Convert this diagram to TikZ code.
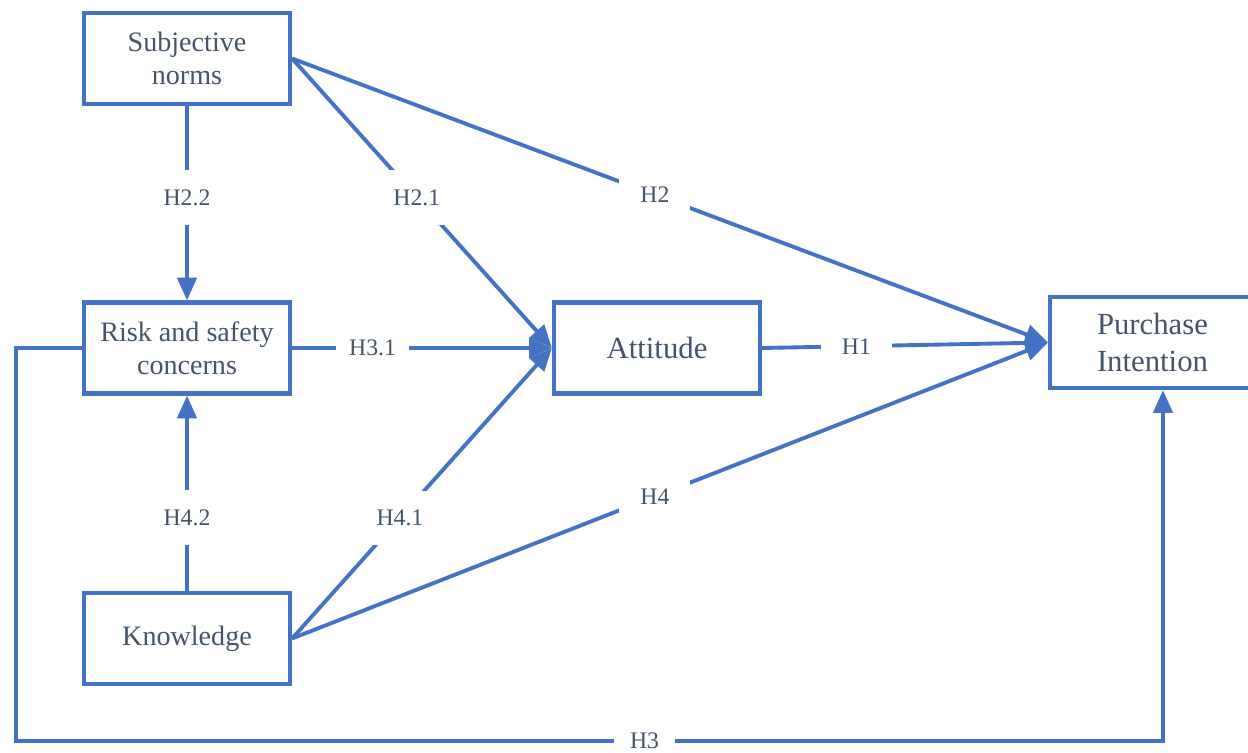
\documentclass[tikz,border=0pt]{standalone}
\usepackage{fontspec}
\setmainfont{Liberation Serif}
\newfontfamily\tnr{Liberation Serif}
\usetikzlibrary{arrows.meta}
\definecolor{linecol}{HTML}{4472C4}
\definecolor{textcol}{HTML}{44546A}
\begin{document}
\begin{tikzpicture}[x=0.02cm,y=-0.02cm,
  box/.style={draw=linecol, line width=2.4pt, text=textcol, align=center, inner sep=0pt,
    minimum width=4.12cm, minimum height=1.82cm, font=\tnr\fontsize{16}{18.7}\selectfont},
  bigbox/.style={box, font=\tnr\fontsize{17.5}{21}\selectfont},
  conn/.style={draw=linecol, line width=2.2pt},
  arr/.style={conn, -{Triangle[length=13pt,width=11pt]}},
  lbl/.style={fill=white, text=textcol, font=\tnr\fontsize{13.5}{16}\selectfont, inner xsep=8pt, inner ysep=11pt}]
\useasboundingbox (0,0) rectangle (1248,753);
\clip (0,0) rectangle (1248,753);

\node[box] (sn) at (187,58.5) {Subjective\\norms};
\node[box] (risk) at (187,348) {Risk and safety\\concerns};
\node[box] (kn) at (187,638.5) {Knowledge};
\node[bigbox] (att) at (657,348) {Attitude};
\node[bigbox, minimum width=4.52cm] (pi) at (1163,342.5) {Purchase\hspace*{0.42cm}\\Intention\hspace*{0.42cm}};

\coordinate (c1) at (16,348);
\coordinate (c2) at (16,741);

\draw[arr] (sn.south) -- node[lbl, pos=0.47] {H2.2} (risk.north);
\draw[arr] (sn.east) -- node[lbl, pos=0.48] {H2.1} (att.west);
\draw[arr] (sn.east) -- node[lbl, pos=0.48, inner xsep=12pt] {H2} (pi.west);
\draw[arr] (risk.east) -- node[lbl, pos=0.31, inner xsep=7.5pt] {H3.1} (att.west);
\draw[arr] (att.east) -- node[lbl, pos=0.33, inner xsep=12pt] {H1} (pi.west);
\draw[arr] (kn.north) -- node[lbl, pos=0.375] {H4.2} (risk.south);
\draw[arr] (kn.east) -- node[lbl, pos=0.415] {H4.1} (att.west);
\draw[arr] (kn.east) -- node[lbl, pos=0.48, inner xsep=12pt] {H4} (pi.west);
\draw[arr] (risk.west) -- (c1) -- (c2) -- node[lbl, pos=0.548, inner xsep=9pt] {H3} (c2 -| pi.south) -- (pi.south);
\end{tikzpicture}
\end{document}
